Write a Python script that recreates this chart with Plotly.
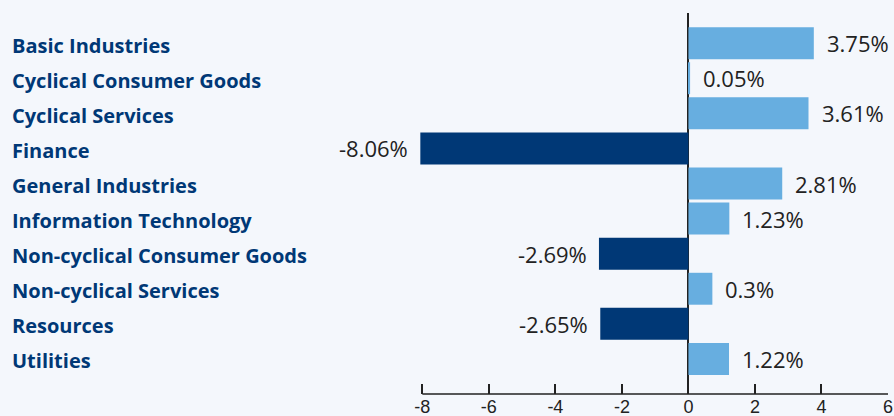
import plotly.graph_objects as go

categories = ["Basic Industries", "Cyclical Consumer Goods", "Cyclical Services", "Finance",
              "General Industries", "Information Technology", "Non-cyclical Consumer Goods",
              "Non-cyclical Services", "Resources", "Utilities"]
# bar lengths as drawn in the picture (the "0.3%" bar is drawn about 0.72 long)
values = [3.77, 0.05, 3.61, -8.06, 2.82, 1.23, -2.69, 0.72, -2.65, 1.22]
value_labels = ["3.75%", "0.05%", "3.61%", "-8.06%", "2.81%", "1.23%", "-2.69%", "0.3%", "-2.65%", "1.22%"]
tick_vals = [-8, -6, -4, -2, 0, 2, 4, 6]
tick_text = ["-8", "-6", "-4", "-2", "0", "2", "4", "6"]

POS = "#67AEE0"
NEG = "#003876"
BG = "#F4F7FC"
INK = "#222222"

X_MIN, X_MAX = -8.1, 6.0
L, R = 419, 6

idx = list(range(len(categories)))
colors = [POS if v >= 0 else NEG for v in values]

fig = go.Figure(go.Bar(
    x=values, y=idx, orientation="h", width=0.91,
    marker=dict(color=colors, line=dict(width=0)),
    hoverinfo="skip", cliponaxis=False,
))

plot_w = 894 - L - R
label_x = (10 - L) / plot_w

annotations = []
for i, (c, v, t) in enumerate(zip(categories, values, value_labels)):
    annotations.append(dict(
        x=label_x, xref="paper", y=i, yref="y", text=c, showarrow=False,
        xanchor="left", yanchor="middle", yshift=-2,
        font=dict(family="Open Sans", size=20, color=NEG, weight="bold"),
    ))
    annotations.append(dict(
        x=v, xref="x", y=i, yref="y", text=t, showarrow=False,
        xanchor="left" if v >= 0 else "right", yanchor="middle",
        xshift=11 if v >= 0 else -10,
        font=dict(family="Open Sans", size=22, color=INK),
    ))

fig.update_layout(
    width=894, height=416,
    margin=dict(l=L, r=R, t=13, b=22, autoexpand=False),
    paper_bgcolor=BG, plot_bgcolor=BG,
    showlegend=False,
    annotations=annotations,
    shapes=[dict(type="line", xref="x", yref="paper", x0=tick_vals[0], x1=tick_vals[-1],
                 y0=0, y1=0, line=dict(color=INK, width=1.5))],
    xaxis=dict(
        range=[X_MIN, X_MAX], tickvals=tick_vals, ticktext=tick_text, showgrid=False,
        zeroline=True, zerolinecolor=INK, zerolinewidth=1.5,
        showline=False, automargin=False,
        ticks="inside", ticklen=10, tickcolor=INK, tickwidth=1.5,
        tickfont=dict(family="Liberation Sans", size=18, color=INK),
        fixedrange=True,
    ),
    yaxis=dict(
        range=[10.0, -0.86], showticklabels=False, showgrid=False, automargin=False,
        zeroline=False, showline=False, ticks="", fixedrange=True,
    ),
)

fig.write_html("out.html")
